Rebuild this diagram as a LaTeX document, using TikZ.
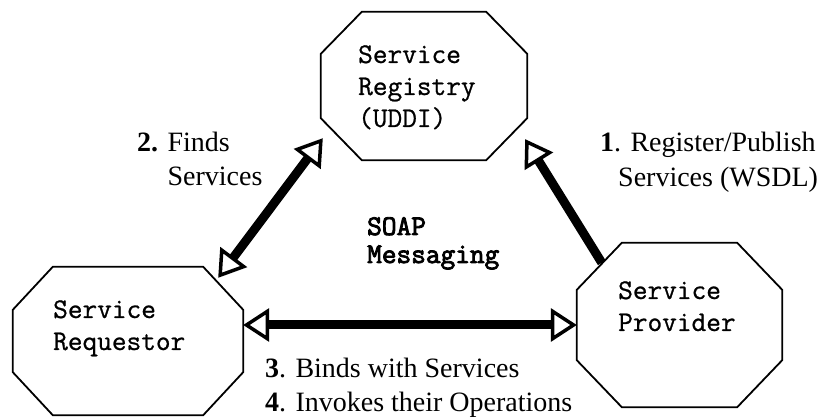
\documentclass[tikz,border=0pt]{standalone}
\usepackage{fontspec}
\setmainfont{Liberation Serif}
\newfontfamily\boxfont{Latin Modern Mono}[FakeBold=0.8]
\newfontfamily\soapfont{Latin Modern Mono}[FakeBold=3]
\usetikzlibrary{calc, arrows.meta}
\begin{document}
\begin{tikzpicture}[x=1pt, y=-1pt]
  \tikzset{
    oct_node/.style={rectangle, draw=none, inner sep=0pt},
    oct_line/.style={draw, line width=1.8pt, line join=miter},
    box_text/.style={anchor=base west, align=left, inner sep=0pt, font=\boxfont\fontsize{28.5}{32}\selectfont},
    soap_text/.style={anchor=base west, align=left, inner sep=0pt, font=\soapfont\fontsize{28.5}{28}\selectfont},
    step_text/.style={anchor=base west, align=left, inner sep=0pt, font=\fontsize{28}{35}\selectfont},
    flow_arrow/.style={line width=9pt, >={Triangle[open, fill=white, length=26pt, width=33pt, line width=3.5pt]}}
  }
  \useasboundingbox (0,0) rectangle (830,419);

  % Cajas de los tres actores
  \node[oct_node, minimum width=206pt, minimum height=148pt] (reg) at (424,86) {};
  \node[oct_node, minimum width=230pt, minimum height=148pt] (req) at (128,341) {};
  \node[oct_node, minimum width=205pt, minimum height=164pt] (prov) at (679.5,325) {};

  % Octágonos (esquinas recortadas)
  \foreach \n/\cx/\cy in {reg/41/42, req/40/43, prov/45/47}
    \draw[oct_line] ($(\n.north west)+(\cx,0)$) -- ($(\n.north east)+(-\cx,0)$)
      -- ($(\n.north east)+(0,\cy)$) -- ($(\n.south east)+(0,-\cy)$)
      -- ($(\n.south east)+(-\cx,0)$) -- ($(\n.south west)+(\cx,0)$)
      -- ($(\n.south west)+(0,-\cy)$) -- ($(\n.north west)+(0,\cy)$) -- cycle;

  % Nombres dentro de los octágonos
  \node[box_text] (reg_txt) at (358,127) {Service\\Registry\\(UDDI)};
  \node[box_text] (req_txt) at (53,350) {Service\\Requestor};
  \node[box_text] (prov_txt) at (618,331) {Service\\Provider};
  \node[soap_text] (soap) at (367,263) {SOAP\\Messaging};

  % Flechas
  \draw[flow_arrow, ->] ($(prov.north west)+(25,20)$) -- ($(reg.south east)+(-2,-21)$);
  \draw[flow_arrow, <->] ($(req.north east)+(-25,11)$) -- ($(reg.south west)+(2,-22)$);
  \draw[flow_arrow, <->] (req.east |- prov.west) -- (prov.west);

  % Pasos
  \node[step_text] (step_one) at (600,187) {\textbf{1}. Register/Publish\\\hspace*{18pt}Services (WSDL)};
  \node[step_text, font=\fontsize{28}{34}\selectfont] (step_two) at (137,186) {\textbf{2.} Finds\\\hphantom{\textbf{2.} }Services};
  \node[step_text] (step_three) at (265,412) {\textbf{3}. Binds with Services\\\textbf{4}. Invokes their Operations};
\end{tikzpicture}
\end{document}
